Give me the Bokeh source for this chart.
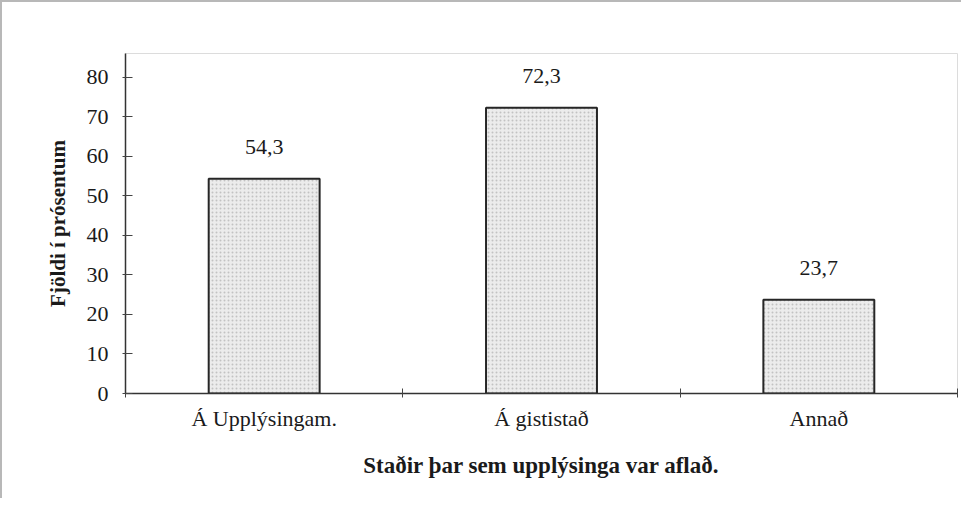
from bokeh.plotting import figure
from bokeh.models import Range1d, FixedTicker, LabelSet, ColumnDataSource
from bokeh.embed import file_html
from bokeh.resources import INLINE

categories = ["Á Upplýsingam.", "Á gististað", "Annað"]
values = [54.3, 72.3, 23.7]
value_labels = ["54,3", "72,3", "23,7"]
y_ticks = [0, 10, 20, 30, 40, 50, 60, 70, 80]

FONT = "Liberation Serif"

xs = [i + 0.5 for i in range(len(categories))]
src = ColumnDataSource(dict(x=xs, top=values, lab=value_labels))

p = figure(width=961, height=498, output_backend="svg", toolbar_location=None,
           x_range=Range1d(0, len(categories)), y_range=Range1d(0, 86),
           min_border_left=123, min_border_right=6, min_border_top=51, min_border_bottom=107)
p.styles = {"border-top": "2px solid #b8b8b8", "border-left": "2px solid #b8b8b8"}

p.vbar(x="x", top="top", width=0.4, bottom=0, source=src,
       fill_color="#ececec", line_color="#262626", line_width=2,
       hatch_pattern="dot", hatch_color="#c2c2c2", hatch_scale=4, hatch_weight=1)

labels = LabelSet(x="x", y="top", text="lab", source=src, y_offset=25,
                  text_align="center", text_baseline="alphabetic",
                  text_font=FONT, text_font_size="22px", text_color="#1a1a1a")
p.add_layout(labels)

p.xgrid.visible = False
p.ygrid.visible = False
p.outline_line_color = "#dcdcdc"
p.background_fill_color = "white"
p.border_fill_color = "white"

xa = p.xaxis[0]
xa.ticker = FixedTicker(ticks=xs, minor_ticks=list(range(len(categories) + 1)))
xa.major_label_overrides = {x: c for x, c in zip(xs, categories)}
xa.major_tick_in = 0
xa.major_tick_out = 0
xa.minor_tick_in = 5
xa.minor_tick_out = 4
xa.minor_tick_line_color = "#444444"
xa.axis_line_color = "#333333"
xa.axis_line_width = 1.5
xa.major_label_text_font = FONT
xa.major_label_text_font_size = "22px"
xa.major_label_text_color = "#1a1a1a"
xa.major_label_standoff = 8
xa.axis_label = "Staðir þar sem upplýsinga var aflað."
xa.axis_label_text_font = FONT
xa.axis_label_text_font_style = "bold"
xa.axis_label_text_font_size = "23px"
xa.axis_label_text_color = "#1a1a1a"
xa.axis_label_standoff = 19

ya = p.yaxis[0]
ya.ticker = FixedTicker(ticks=y_ticks, minor_ticks=[])
ya.major_tick_in = 7
ya.major_tick_out = 3
ya.major_tick_line_color = "#444444"
ya.axis_line_color = "#333333"
ya.axis_line_width = 1.5
ya.major_label_text_font = FONT
ya.major_label_text_font_size = "22px"
ya.major_label_text_color = "#1a1a1a"
ya.major_label_standoff = 14
ya.axis_label = "Fjöldi í prósentum"
ya.axis_label_text_font = FONT
ya.axis_label_text_font_style = "bold"
ya.axis_label_text_font_size = "21px"
ya.axis_label_text_color = "#1a1a1a"
ya.axis_label_standoff = 14

open("out.html", "w").write(file_html(p, INLINE))
